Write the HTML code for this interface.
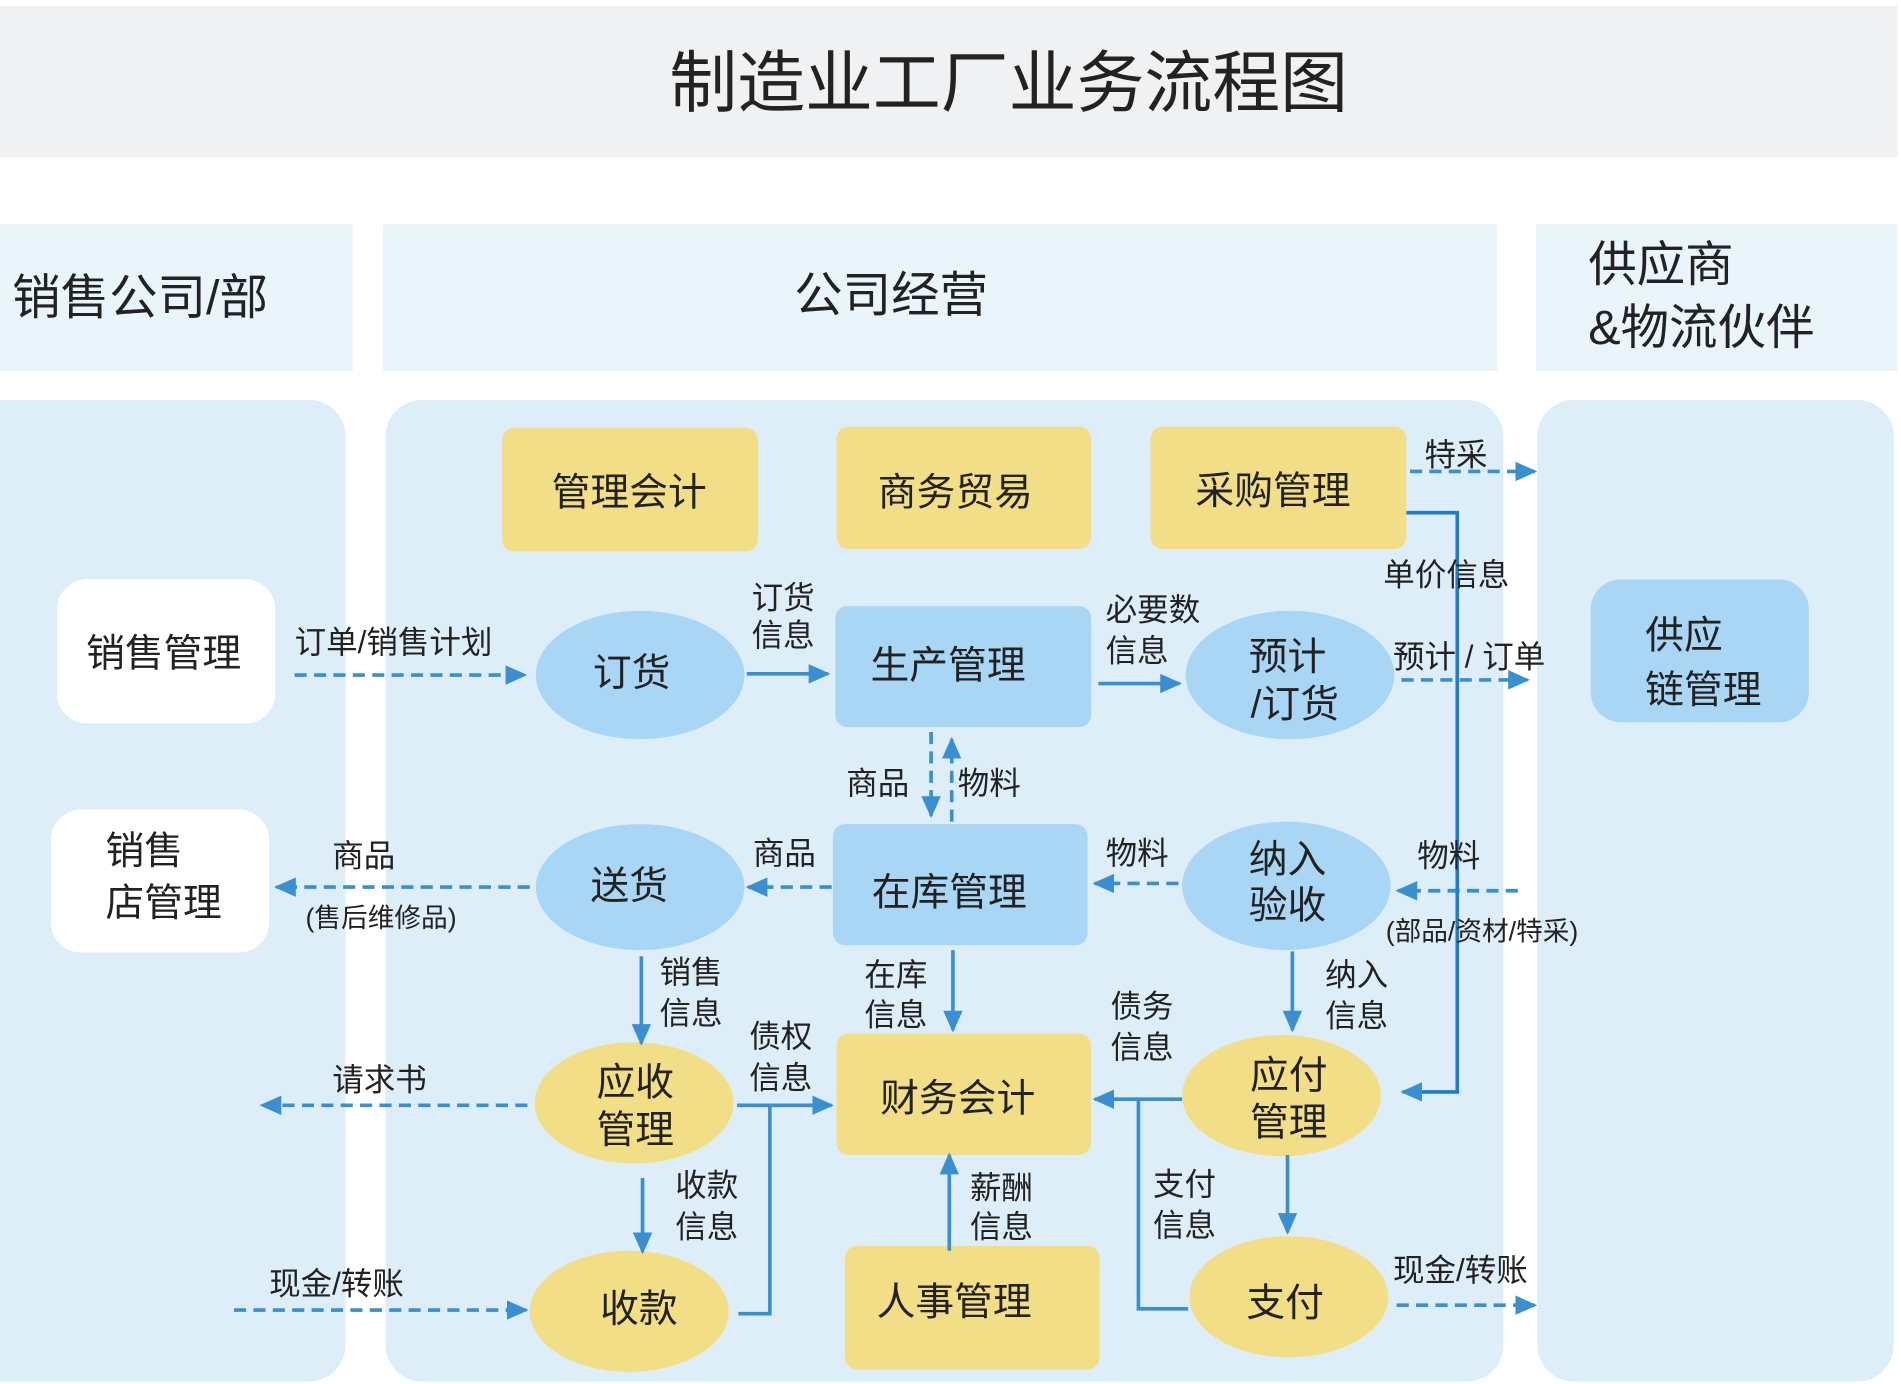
<!DOCTYPE html>
<html><head><meta charset="utf-8"><style>
html,body{margin:0;padding:0;background:#fff;width:1901px;height:1384px;overflow:hidden}
svg text{font-family:"Liberation Sans","Noto Sans CJK SC",sans-serif;fill:#222}
</style></head><body>
<svg width="1901" height="1384" viewBox="0 0 1568 1142" preserveAspectRatio="none" xmlns="http://www.w3.org/2000/svg">
<defs>
<marker id="a" markerWidth="8" markerHeight="8" refX="6" refY="4" orient="auto" markerUnits="userSpaceOnUse" viewBox="0 0 8 8"><path d="M0,0 L8,4 L0,8 z" fill="#3a8fd0"/></marker>
<marker id="b" markerWidth="18" markerHeight="16" refX="16" refY="8" orient="auto" markerUnits="userSpaceOnUse"><path d="M0,0 L18,8 L0,16 z" fill="#3a8fd0"/></marker>
</defs>
<rect x="0" y="5" width="1565" height="125" fill="#eff1f3"/>
<text x="832" y="88" font-size="56" text-anchor="middle">制造业工厂业务流程图</text>
<rect x="0" y="185" width="291" height="121" fill="#eaf4fb"/>
<rect x="316" y="185" width="919" height="121" fill="#eaf4fb"/>
<rect x="1267" y="185" width="298" height="121" fill="#eaf4fb"/>
<text x="10" y="259" font-size="40">销售公司/部</text>
<text x="735" y="257" font-size="40" text-anchor="middle">公司经营</text>
<text x="1310" y="232" font-size="40">供应商</text>
<text x="1310" y="284" font-size="40">&amp;物流伙伴</text>
<rect x="-30" y="330" width="315" height="810" rx="30" fill="#deeef9"/>
<rect x="318" y="330" width="922" height="810" rx="30" fill="#deeef9"/>
<rect x="1268" y="330" width="294" height="810" rx="30" fill="#deeef9"/>
<g font-size="32">
<rect x="47" y="478" width="180" height="119" rx="25" fill="#fff"/>
<text x="135" y="550" text-anchor="middle">销售管理</text>
<rect x="42" y="668" width="180" height="118" rx="25" fill="#fff"/>
<text x="87" y="713">销售</text><text x="87" y="756">店管理</text>
<g fill="#f2de86">
<rect x="414" y="353" width="211" height="102" rx="10"/>
<rect x="690" y="352" width="210" height="101" rx="10"/>
<rect x="949" y="352" width="211" height="101" rx="10"/>
<rect x="690" y="853" width="210" height="100" rx="10"/>
<rect x="697" y="1028" width="210" height="102" rx="10"/>
<ellipse cx="523" cy="910" rx="82" ry="50"/>
<ellipse cx="519" cy="1082" rx="82" ry="50"/>
<ellipse cx="1057" cy="904" rx="82" ry="50"/>
<ellipse cx="1063" cy="1070" rx="82" ry="50"/>
</g>
<g fill="#a9d6f5">
<rect x="689" y="500" width="211" height="100" rx="10"/>
<rect x="687" y="680" width="210" height="100" rx="10"/>
<rect x="1312" y="478" width="180" height="118" rx="25"/>
<ellipse cx="528" cy="557" rx="86" ry="53"/>
<ellipse cx="1064" cy="557" rx="86" ry="53"/>
<ellipse cx="528" cy="732" rx="86" ry="52"/>
<ellipse cx="1061" cy="731" rx="86" ry="53"/>
</g>
<text x="519" y="417" text-anchor="middle">管理会计</text>
<text x="788" y="417" text-anchor="middle">商务贸易</text>
<text x="1050" y="416" text-anchor="middle">采购管理</text>
<text x="790" y="917" text-anchor="middle">财务会计</text>
<text x="787" y="1085" text-anchor="middle">人事管理</text>
<text x="782" y="560" text-anchor="middle">生产管理</text>
<text x="783" y="747" text-anchor="middle">在库管理</text>
<text x="1357" y="535">供应</text><text x="1357" y="580">链管理</text>
<text x="521" y="566" text-anchor="middle">订货</text>
<text x="1062" y="553" text-anchor="middle">预计</text><text x="1068" y="592" text-anchor="middle">/订货</text>
<text x="519" y="742" text-anchor="middle">送货</text>
<text x="1062" y="720" text-anchor="middle">纳入</text><text x="1062" y="758" text-anchor="middle">验收</text>
<text x="524" y="904" text-anchor="middle">应收</text><text x="524" y="943" text-anchor="middle">管理</text>
<text x="527" y="1091" text-anchor="middle">收款</text>
<text x="1063" y="898" text-anchor="middle">应付</text><text x="1063" y="937" text-anchor="middle">管理</text>
<text x="1060" y="1086" text-anchor="middle">支付</text>
</g>
<g stroke="#3a8fd0" stroke-width="3" fill="none">
<g stroke-dasharray="10,6">
<path d="M243,557 H433" marker-end="url(#b)"/>
<path d="M437,732 H228" marker-end="url(#b)"/>
<path d="M686,732 H617" marker-end="url(#b)"/>
<path d="M972,729 H903" marker-end="url(#b)"/>
<path d="M1252,735 H1153" marker-end="url(#b)"/>
<path d="M1163,389 H1266" marker-end="url(#b)"/>
<path d="M1156,561 H1260" marker-end="url(#b)"/>
<path d="M768,604 V673" marker-end="url(#b)"/>
<path d="M785,678 V610" marker-end="url(#b)"/>
<path d="M435,912 H216" marker-end="url(#b)"/>
<path d="M193,1081 H434" marker-end="url(#b)"/>
<path d="M1152,1077 H1266" marker-end="url(#b)"/>
</g>
<path d="M616,556 H683" marker-end="url(#b)"/>
<path d="M906,564 H973" marker-end="url(#b)"/>
<path d="M529,789 V861" marker-end="url(#b)"/>
<path d="M786,784 V850" marker-end="url(#b)"/>
<path d="M1066,785 V850" marker-end="url(#b)"/>
<path d="M608,912 H686" marker-end="url(#b)"/>
<path d="M609,1084 H635 V912"/>
<path d="M975,907 H903" marker-end="url(#b)"/>
<path d="M980,1080 H939 V907"/>
<path d="M530,972 V1033" marker-end="url(#b)"/>
<path d="M783,1032 V953" marker-end="url(#b)"/>
<path d="M1062,953 V1017" marker-end="url(#b)"/>
<path d="M1160,423 H1202 V901 H1157" marker-end="url(#b)" stroke="#1f7cc8"/>
</g>
<g font-size="26">
<text x="243" y="539">订单/销售计划</text>
<text x="620" y="502">订货</text><text x="620" y="533">信息</text>
<text x="912" y="512">必要数</text><text x="912" y="546">信息</text>
<text x="1175" y="384">特采</text>
<text x="1141" y="483">单价信息</text>
<text x="1149" y="551">预计 / 订单</text>
<text x="698" y="655">商品</text><text x="790" y="655">物料</text>
<text x="274" y="715">商品</text>
<text x="252" y="765" font-size="22">(售后维修品)</text>
<text x="621" y="713">商品</text>
<text x="912" y="713">物料</text>
<text x="1169" y="715">物料</text>
<text x="1143" y="776" font-size="22">(部品/资材/特采)</text>
<text x="544" y="811">销售</text><text x="544" y="845">信息</text>
<text x="713" y="813">在库</text><text x="713" y="846">信息</text>
<text x="1093" y="813">纳入</text><text x="1093" y="847">信息</text>
<text x="916" y="839">债务</text><text x="916" y="873">信息</text>
<text x="618" y="864">债权</text><text x="618" y="898">信息</text>
<text x="274" y="900">请求书</text>
<text x="557" y="987">收款</text><text x="557" y="1021">信息</text>
<text x="800" y="989">薪酬</text><text x="800" y="1021">信息</text>
<text x="951" y="986">支付</text><text x="951" y="1020">信息</text>
<text x="222" y="1068">现金/转账</text>
<text x="1149" y="1057">现金/转账</text>
</g>
</svg>
</body></html>
